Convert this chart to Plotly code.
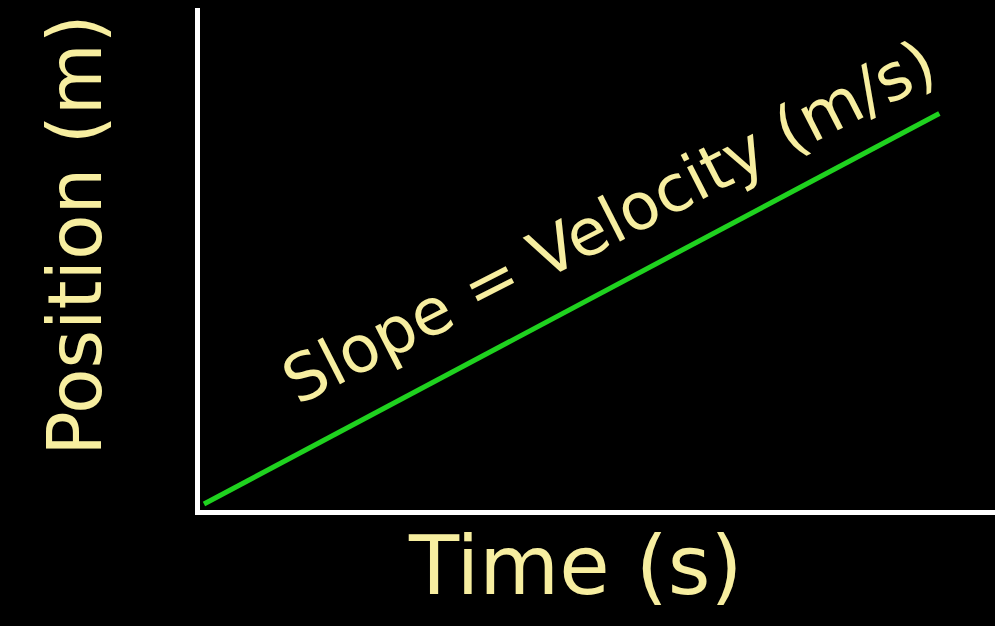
import plotly.graph_objects as go

# position vs time, straight line (constant velocity)
time_s = [0.05, 9.3]
position_m = [0.12, 7.9]

x_label = "Time (s)"
y_label = "Position (m)"
slope_label = "Slope = Velocity (m/s)"

yellow = "#f7eea0"
green = "#1fd21f"

fig = go.Figure()

fig.add_trace(
    go.Scatter(x=time_s, y=position_m, mode="lines",
               line=dict(color=green, width=5), hoverinfo="skip")
)

fig.add_annotation(text=slope_label, x=0.515, y=0.575, xref="paper", yref="paper",
                   textangle=-27, showarrow=False,
                   font=dict(family="DejaVu Sans", size=65, color=yellow))
fig.add_annotation(text=y_label, x=-0.214, y=0.548, xref="paper", yref="paper",
                   textangle=-90, showarrow=False,
                   font=dict(family="DejaVu Sans", size=74, color=yellow))
fig.add_annotation(text=x_label, x=0.472, y=-0.21, xref="paper", yref="paper",
                   showarrow=False,
                   font=dict(family="DejaVu Sans", size=82, color=yellow))

fig.update_xaxes(range=[0, 10], showline=True, linecolor="white", linewidth=5,
                 showgrid=False, zeroline=False, showticklabels=False, ticks="")
fig.update_yaxes(range=[0, 10], showline=True, linecolor="white", linewidth=5,
                 showgrid=False, zeroline=False, showticklabels=False, ticks="")

fig.update_layout(
    width=995, height=626,
    margin=dict(l=200, r=0, t=8, b=116),
    paper_bgcolor="black", plot_bgcolor="black",
    showlegend=False,
)

fig.write_html("out.html", config={"displayModeBar": False},
               post_script="document.body.style.margin='0';"
                           "document.body.style.background='black';")
